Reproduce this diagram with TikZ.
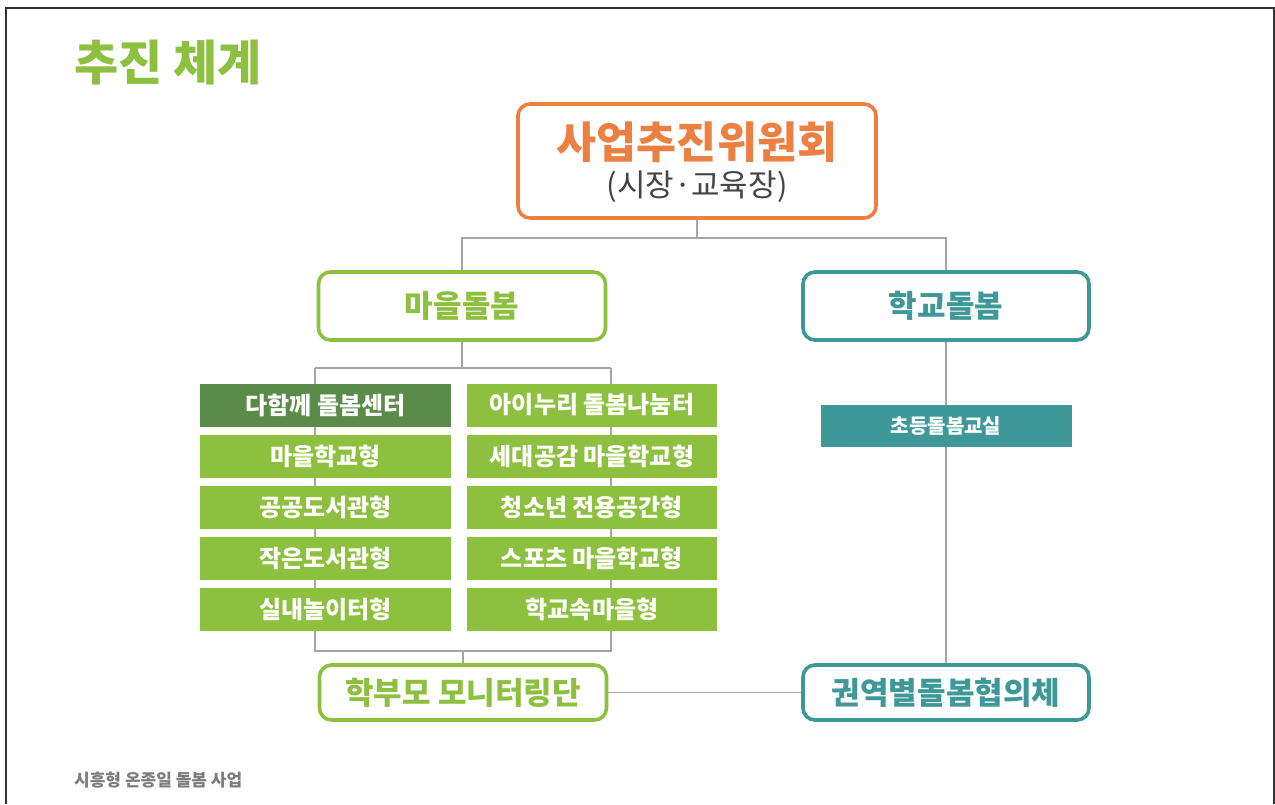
\documentclass[tikz,border=0pt]{standalone}
\usepackage{fontspec}
\setmainfont{Noto Sans CJK KR}
\usetikzlibrary{backgrounds}
\pgfdeclarelayer{bottom}
\pgfsetlayers{bottom,background,main}
\definecolor{orng}{RGB}{236,128,66}
\definecolor{subgray}{RGB}{68,68,68}
\definecolor{lgreen}{RGB}{141,192,63}
\definecolor{dgreen}{RGB}{89,140,72}
\definecolor{tealc}{RGB}{62,152,152}
\definecolor{lgray}{RGB}{165,165,165}
\definecolor{footgray}{RGB}{125,125,125}
\newcommand{\fs}[1]{\fontsize{#1}{#1}\selectfont}
\tikzset{
  conn/.style={draw=lgray, line width=1.6},
  outbox/.style={draw, fill=white, rounded corners=12, line width=3.6, inner sep=0},
  fillbox/.style={fill=lgreen, text=white, inner sep=0, minimum height=43, font=\fs{24}\bfseries},
  lcol/.style={fillbox, minimum width=251},
  rcol/.style={fillbox, minimum width=250},
}
\begin{document}
\begin{tikzpicture}[x=1pt,y=-1pt]
\useasboundingbox (0,0) rectangle (1275,804);
\begin{pgfonlayer}{bottom}
\fill[white] (0,0) rectangle (1275,804);
\end{pgfonlayer}
% frame
\draw[line width=1.6, black!80] (6,804) -- (6,8) -- (1274,8) -- (1274,804);

% title
\node[anchor=west, text=lgreen, font=\fs{48}\bfseries, inner sep=0] (title) at (74,63) {추진 체계};

% top box
\node[outbox, draw=orng, minimum width=358, minimum height=114] (top) at (697,161) {};
\node[text=orng, font=\fs{43.5}\bfseries, inner sep=0] (toptxt) at (697,142) {사업추진위원회};
\node[text=subgray, font=\fs{31}, inner sep=0] (topsub) at (697,187) {(시장·교육장)};

% level 2
\node[outbox, draw=lgreen, text=lgreen, minimum width=287, minimum height=68, font=\fs{31}\bfseries] (maeul) at (462,306) {마을돌봄};
\node[outbox, draw=tealc, text=tealc, minimum width=286, minimum height=68, font=\fs{31}\bfseries] (school) at (946,306) {학교돌봄};

% junction coordinates
\coordinate (jl) at (315,368);
\coordinate (jr) at (611,368);
\coordinate (bl) at (315,651);
\coordinate (br) at (611,651);

% left column
\node[lcol, fill=dgreen] (c1) at (325.5,405) {다함께 돌봄센터};
\node[lcol] (c2) at (325.5,456) {마을학교형};
\node[lcol] (c3) at (325.5,507.5) {공공도서관형};
\node[lcol] (c4) at (325.5,558) {작은도서관형};
\node[lcol] (c5) at (325.5,609.5) {실내놀이터형};
% right column
\node[rcol] (d1) at (592,405) {아이누리 돌봄나눔터};
\node[rcol] (d2) at (592,456) {세대공감 마을학교형};
\node[rcol] (d3) at (592,507.5) {청소년 전용공간형};
\node[rcol] (d4) at (592,558) {스포츠 마을학교형};
\node[rcol] (d5) at (592,609.5) {학교속마을형};

% school side
\node[fill=tealc, text=white, inner sep=0, minimum width=251, minimum height=42, font=\fs{20}\bfseries] (elem) at (946,426) {초등돌봄교실};

% bottom
\node[outbox, draw=lgreen, text=lgreen, minimum width=287, minimum height=55, font=\fs{31}\bfseries] (parents) at (463,692.5) {학부모 모니터링단};
\node[outbox, draw=tealc, text=tealc, minimum width=286, minimum height=55, font=\fs{31}\bfseries] (regional) at (946,692.5) {권역별돌봄협의체};

% footer
\node[anchor=west, text=footgray, font=\fs{17}\bfseries, inner sep=0] (footer) at (74,780) {시흥형 온종일 돌봄 사업};

% connectors
\begin{scope}[on background layer]
\draw[conn] (top.south) -- (top.south |- 0,238);
\draw[conn] (maeul.north) |- (top.south |- 0,238) -| (school.north);
\draw[conn] (maeul.south) -- (maeul.south |- jl);
\draw[conn] (jl) -- (jr);
\draw[conn] (jl) -- (bl) -- (br) -- (jr);
\draw[conn] (parents.north) -- (parents.north |- bl);
\draw[conn] (school.south) -- (regional.north);
\draw[conn] (parents.east) -- (regional.west);
\end{scope}
\end{tikzpicture}
\end{document}
